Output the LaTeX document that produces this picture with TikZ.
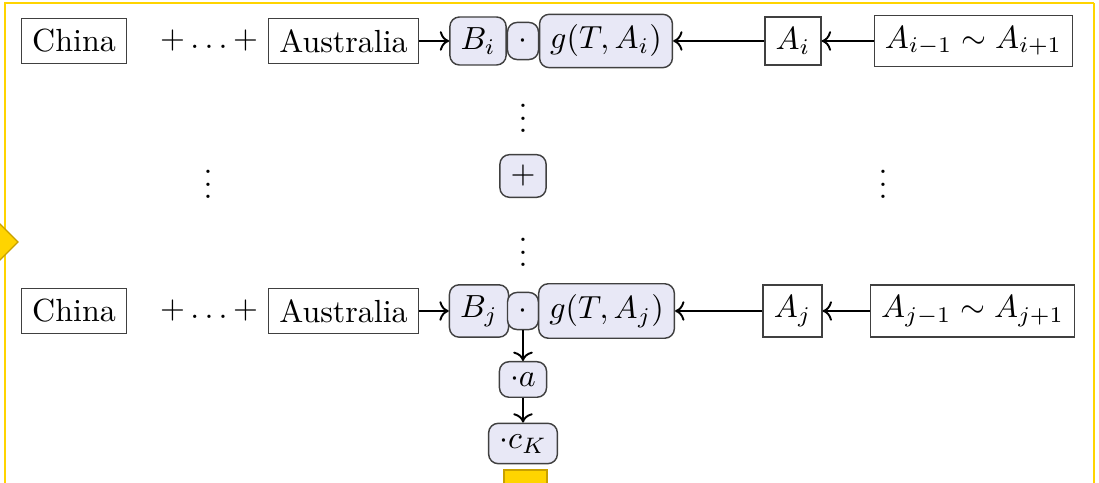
\documentclass[tikz,border=0pt]{standalone}
\usepackage{tikz}
\usetikzlibrary{arrows.meta}
\definecolor{termfill}{RGB}{232,232,246}
\definecolor{handle}{RGB}{255,212,0}
\definecolor{handleline}{RGB}{200,160,0}

\begin{document}
\begin{tikzpicture}[x=0.3125pt, y=0.3125pt,
  plain/.style={draw=black!75, line width=0.45pt},
  term/.style={draw=black!75, fill=termfill, rounded corners=3pt, line width=0.45pt},
  times/.style={term, minimum width=9.7pt, minimum height=11.6pt},
  link/.style={->, semithick}]
\useasboundingbox (0,0) rectangle (1099,483);
\clip (0,0) rectangle (1099,483);
% selection frame and handles
\draw[handle, line width=0.7pt] (5,-5) -- (5,480) -- (1094,480);
\draw[handle, line width=0.35pt] (1094,480) -- (1094,-5);
\filldraw[fill=handle, draw=handleline] (0,259) -- (18,241) -- (0,223) -- (-18,241) -- cycle;
\filldraw[fill=handle, draw=handleline] (504,-5) rectangle (547,13);
% row i
\node[plain] (chinaI) at (74,442) {China};
\node (sumI) at (209,442) {$+\ldots+$};
\node[plain] (ausI) at (343.5,442) {Australia};
\node[term] (bI) at (478,442) {$B_i$};
\node[times] (dotI) at (523,442) {$\cdot$};
\node[term] (gI) at (606,442) {$g(T,A_i)$};
\node[plain] (aI) at (793,442) {$A_i$};
\node[plain] (rangeI) at (973.5,442) {$A_{i-1}\sim A_{i+1}$};
\draw[link] (ausI) -- (bI);
\draw[link] (aI) -- (gI);
\draw[link] (rangeI) -- (aI);
% middle
\node[anchor=base] (vdotsUp) at (523,350) {$\vdots$};
\node[term] (plus) at (523,307) {$+$};
\node[anchor=base] (vdotsDown) at (523,216) {$\vdots$};
\node[anchor=base] (vdotsL) at (208,284) {$\vdots$};
\node[anchor=base] (vdotsR) at (883,284) {$\vdots$};
% row j
\node[plain] (chinaJ) at (74,172) {China};
\node (sumJ) at (209,172) {$+\ldots+$};
\node[plain] (ausJ) at (343.5,172) {Australia};
\node[term] (bJ) at (479,172) {$B_j$};
\node[times] (dotJ) at (523,172) {$\cdot$};
\node[term] (gJ) at (606.5,172) {$g(T,A_j)$};
\node[plain] (aJ) at (792.5,172) {$A_j$};
\node[plain] (rangeJ) at (972.5,172) {$A_{j-1}\sim A_{j+1}$};
\draw[link] (ausJ) -- (bJ);
\draw[link] (aJ) -- (gJ);
\draw[link] (rangeJ) -- (aJ);
% scaling
\node[term] (scaleA) at (523,103.5) {$\cdot a$};
\node[term] (scaleC) at (523,39.5) {$\cdot c_K$};
\draw[link] (dotJ) -- (scaleA);
\draw[link] (scaleA) -- (scaleC);
\end{tikzpicture}
\end{document}
